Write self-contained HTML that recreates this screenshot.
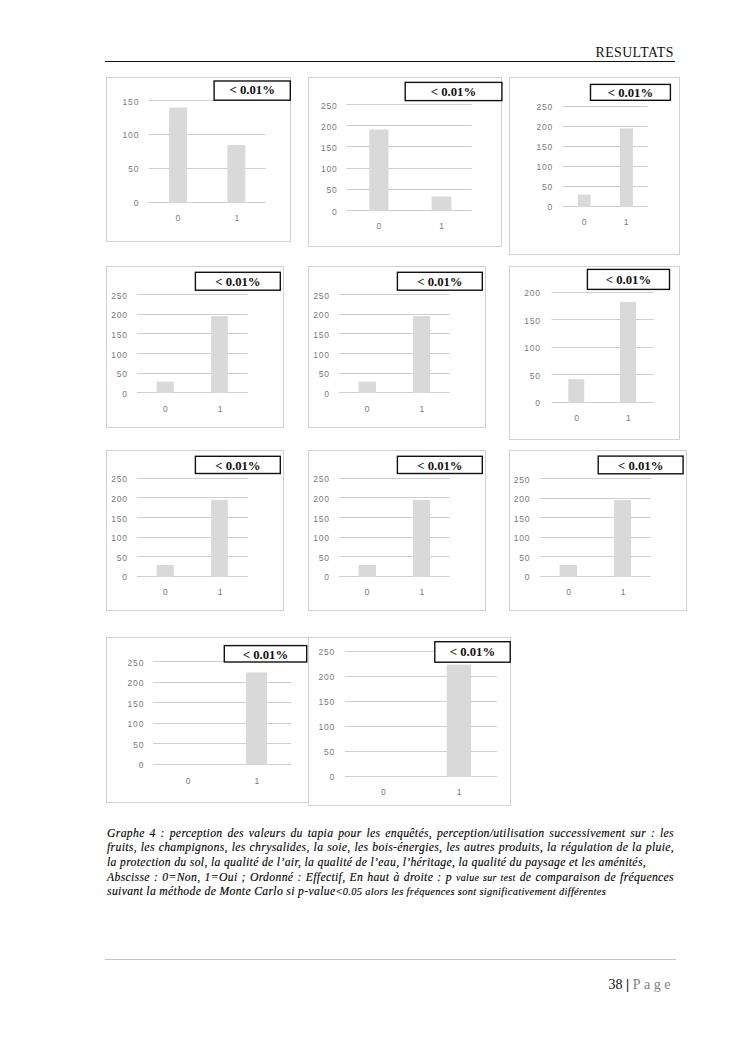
<!DOCTYPE html>
<html><head><meta charset="utf-8">
<style>
html,body{margin:0;padding:0;background:#fff;}
body{width:745px;height:1053px;position:relative;overflow:hidden;}
.hdr{position:absolute;left:595.5px;top:45.74px;font-family:"Liberation Serif",serif;font-size:13.8px;line-height:13.8px;letter-spacing:0.45px;color:#111;white-space:nowrap;}
.hline{position:absolute;left:105px;top:61px;width:570px;height:1px;background:#111;}
svg{position:absolute;left:0;top:0;}
.t{font-family:"Liberation Sans",sans-serif;font-size:8.5px;fill:#7a7a7a;letter-spacing:0.8px;}
.lb{font-family:"Liberation Serif",serif;font-weight:bold;font-size:12.7px;fill:#111;}
.cl{position:absolute;left:107px;width:567px;font-family:"Liberation Serif",serif;font-style:italic;font-size:11.7px;line-height:14px;letter-spacing:0.33px;color:#000;-webkit-text-stroke:0.12px #000;white-space:nowrap;}
.cl.j{text-align:justify;text-align-last:justify;white-space:normal;}
.sm{font-size:10.4px;}
.sm4{font-size:10px;}
.fline{position:absolute;left:104.5px;top:959px;width:571px;height:1px;background:#c4c4c4;}
.pg{position:absolute;left:608.6px;top:977.57px;font-family:"Liberation Serif",serif;font-size:14px;line-height:14px;color:#111;white-space:nowrap;}
.pg b{font-weight:bold;}
.pg .p{color:#7f7f7f;letter-spacing:3.5px;}
</style></head><body>
<div class="hdr">RESULTATS</div>
<div class="hline"></div>
<svg width="745" height="1053" viewBox="0 0 745 1053">
<rect x="106.5" y="77.5" width="184.0" height="164.0" fill="#fff" stroke="#d2d2d2" stroke-width="1"/>
<rect x="148.5" y="202.0" width="117.0" height="1" fill="#cfcfcf"/>
<text x="139.2" y="206.1" text-anchor="end" class="t">0</text>
<rect x="148.5" y="168.0" width="117.0" height="1" fill="#cfcfcf"/>
<text x="139.2" y="172.3" text-anchor="end" class="t">50</text>
<rect x="148.5" y="134.0" width="117.0" height="1" fill="#cfcfcf"/>
<text x="139.2" y="138.4" text-anchor="end" class="t">100</text>
<rect x="148.5" y="100.0" width="117.0" height="1" fill="#cfcfcf"/>
<text x="139.2" y="104.6" text-anchor="end" class="t">150</text>
<rect x="169.1" y="107.6" width="17.8" height="95.4" fill="#d9d9d9"/>
<rect x="227.4" y="145.1" width="17.9" height="57.9" fill="#d9d9d9"/>
<text x="178.3" y="220.6" text-anchor="middle" class="t">0</text>
<text x="237.3" y="220.6" text-anchor="middle" class="t">1</text>
<rect x="214.1" y="81.0" width="76.2" height="19.2" fill="#fff" stroke="#111" stroke-width="1.4"/>
<text x="252.2" y="93.9" text-anchor="middle" class="lb">&lt; 0.01%</text>
<rect x="308.5" y="77.5" width="193.0" height="169.0" fill="#fff" stroke="#d2d2d2" stroke-width="1"/>
<rect x="346.5" y="210.0" width="125.4" height="1" fill="#cfcfcf"/>
<text x="337.6" y="214.6" text-anchor="end" class="t">0</text>
<rect x="346.5" y="189.0" width="125.4" height="1" fill="#cfcfcf"/>
<text x="337.6" y="193.4" text-anchor="end" class="t">50</text>
<rect x="346.5" y="168.0" width="125.4" height="1" fill="#cfcfcf"/>
<text x="337.6" y="172.2" text-anchor="end" class="t">100</text>
<rect x="346.5" y="146.0" width="125.4" height="1" fill="#cfcfcf"/>
<text x="337.6" y="150.9" text-anchor="end" class="t">150</text>
<rect x="346.5" y="125.0" width="125.4" height="1" fill="#cfcfcf"/>
<text x="337.6" y="129.7" text-anchor="end" class="t">200</text>
<rect x="346.5" y="104.0" width="125.4" height="1" fill="#cfcfcf"/>
<text x="337.6" y="108.5" text-anchor="end" class="t">250</text>
<rect x="369.3" y="129.5" width="19.2" height="81.5" fill="#d9d9d9"/>
<rect x="431.6" y="196.5" width="19.8" height="14.5" fill="#d9d9d9"/>
<text x="379.3" y="229.4" text-anchor="middle" class="t">0</text>
<text x="441.9" y="229.4" text-anchor="middle" class="t">1</text>
<rect x="405.2" y="82.4" width="96.7" height="18.2" fill="#fff" stroke="#111" stroke-width="1.4"/>
<text x="453.5" y="96.0" text-anchor="middle" class="lb">&lt; 0.01%</text>
<rect x="509.5" y="77.5" width="170.0" height="177.0" fill="#fff" stroke="#d2d2d2" stroke-width="1"/>
<rect x="563.0" y="206.0" width="84.9" height="1" fill="#cfcfcf"/>
<text x="553.1" y="210.4" text-anchor="end" class="t">0</text>
<rect x="563.0" y="186.0" width="84.9" height="1" fill="#cfcfcf"/>
<text x="553.1" y="190.4" text-anchor="end" class="t">50</text>
<rect x="563.0" y="166.0" width="84.9" height="1" fill="#cfcfcf"/>
<text x="553.1" y="170.4" text-anchor="end" class="t">100</text>
<rect x="563.0" y="146.0" width="84.9" height="1" fill="#cfcfcf"/>
<text x="553.1" y="150.4" text-anchor="end" class="t">150</text>
<rect x="563.0" y="126.0" width="84.9" height="1" fill="#cfcfcf"/>
<text x="553.1" y="130.4" text-anchor="end" class="t">200</text>
<rect x="563.0" y="106.0" width="84.9" height="1" fill="#cfcfcf"/>
<text x="553.1" y="110.4" text-anchor="end" class="t">250</text>
<rect x="577.8" y="194.5" width="12.7" height="12.5" fill="#d9d9d9"/>
<rect x="619.8" y="128.4" width="13.1" height="78.6" fill="#d9d9d9"/>
<text x="584.6" y="225.0" text-anchor="middle" class="t">0</text>
<text x="626.6" y="225.0" text-anchor="middle" class="t">1</text>
<rect x="590.5" y="84.4" width="79.9" height="15.9" fill="#fff" stroke="#111" stroke-width="1.4"/>
<text x="630.5" y="96.9" text-anchor="middle" class="lb">&lt; 0.01%</text>
<rect x="106.5" y="266.5" width="177.0" height="161.0" fill="#fff" stroke="#d2d2d2" stroke-width="1"/>
<rect x="137.0" y="392.0" width="110.9" height="1" fill="#cfcfcf"/>
<text x="127.8" y="396.9" text-anchor="end" class="t">0</text>
<rect x="137.0" y="373.0" width="110.9" height="1" fill="#cfcfcf"/>
<text x="127.8" y="377.2" text-anchor="end" class="t">50</text>
<rect x="137.0" y="353.0" width="110.9" height="1" fill="#cfcfcf"/>
<text x="127.8" y="357.6" text-anchor="end" class="t">100</text>
<rect x="137.0" y="333.0" width="110.9" height="1" fill="#cfcfcf"/>
<text x="127.8" y="337.9" text-anchor="end" class="t">150</text>
<rect x="137.0" y="314.0" width="110.9" height="1" fill="#cfcfcf"/>
<text x="127.8" y="318.3" text-anchor="end" class="t">200</text>
<rect x="137.0" y="294.0" width="110.9" height="1" fill="#cfcfcf"/>
<text x="127.8" y="298.6" text-anchor="end" class="t">250</text>
<rect x="156.6" y="381.6" width="17.2" height="11.4" fill="#d9d9d9"/>
<rect x="211.1" y="316.1" width="16.7" height="76.9" fill="#d9d9d9"/>
<text x="165.7" y="412.0" text-anchor="middle" class="t">0</text>
<text x="220.4" y="412.0" text-anchor="middle" class="t">1</text>
<rect x="195.4" y="272.3" width="84.9" height="17.9" fill="#fff" stroke="#111" stroke-width="1.4"/>
<text x="237.9" y="286.1" text-anchor="middle" class="lb">&lt; 0.01%</text>
<rect x="308.5" y="266.5" width="177.0" height="161.0" fill="#fff" stroke="#d2d2d2" stroke-width="1"/>
<rect x="339.3" y="392.0" width="110.3" height="1" fill="#cfcfcf"/>
<text x="329.8" y="396.9" text-anchor="end" class="t">0</text>
<rect x="339.3" y="373.0" width="110.3" height="1" fill="#cfcfcf"/>
<text x="329.8" y="377.2" text-anchor="end" class="t">50</text>
<rect x="339.3" y="353.0" width="110.3" height="1" fill="#cfcfcf"/>
<text x="329.8" y="357.6" text-anchor="end" class="t">100</text>
<rect x="339.3" y="333.0" width="110.3" height="1" fill="#cfcfcf"/>
<text x="329.8" y="337.9" text-anchor="end" class="t">150</text>
<rect x="339.3" y="314.0" width="110.3" height="1" fill="#cfcfcf"/>
<text x="329.8" y="318.3" text-anchor="end" class="t">200</text>
<rect x="339.3" y="294.0" width="110.3" height="1" fill="#cfcfcf"/>
<text x="329.8" y="298.6" text-anchor="end" class="t">250</text>
<rect x="358.5" y="381.6" width="17.5" height="11.4" fill="#d9d9d9"/>
<rect x="413.0" y="316.1" width="17.0" height="76.9" fill="#d9d9d9"/>
<text x="367.5" y="412.0" text-anchor="middle" class="t">0</text>
<text x="422.3" y="412.0" text-anchor="middle" class="t">1</text>
<rect x="397.4" y="272.3" width="84.9" height="17.9" fill="#fff" stroke="#111" stroke-width="1.4"/>
<text x="439.9" y="286.1" text-anchor="middle" class="lb">&lt; 0.01%</text>
<rect x="509.5" y="266.5" width="170.0" height="173.0" fill="#fff" stroke="#d2d2d2" stroke-width="1"/>
<rect x="551.5" y="402.0" width="102.3" height="1" fill="#cfcfcf"/>
<text x="540.8" y="406.4" text-anchor="end" class="t">0</text>
<rect x="551.5" y="374.0" width="102.3" height="1" fill="#cfcfcf"/>
<text x="540.8" y="378.9" text-anchor="end" class="t">50</text>
<rect x="551.5" y="347.0" width="102.3" height="1" fill="#cfcfcf"/>
<text x="540.8" y="351.4" text-anchor="end" class="t">100</text>
<rect x="551.5" y="319.0" width="102.3" height="1" fill="#cfcfcf"/>
<text x="540.8" y="323.8" text-anchor="end" class="t">150</text>
<rect x="551.5" y="292.0" width="102.3" height="1" fill="#cfcfcf"/>
<text x="540.8" y="296.3" text-anchor="end" class="t">200</text>
<rect x="568.3" y="379.2" width="15.9" height="23.8" fill="#d9d9d9"/>
<rect x="620.1" y="301.9" width="15.8" height="101.1" fill="#d9d9d9"/>
<text x="576.9" y="421.2" text-anchor="middle" class="t">0</text>
<text x="628.7" y="421.2" text-anchor="middle" class="t">1</text>
<rect x="587.4" y="269.4" width="82.1" height="20.0" fill="#fff" stroke="#111" stroke-width="1.4"/>
<text x="628.5" y="284.3" text-anchor="middle" class="lb">&lt; 0.01%</text>
<rect x="106.5" y="450.5" width="177.0" height="160.0" fill="#fff" stroke="#d2d2d2" stroke-width="1"/>
<rect x="137.0" y="576.0" width="111.0" height="1" fill="#cfcfcf"/>
<text x="127.8" y="580.4" text-anchor="end" class="t">0</text>
<rect x="137.0" y="556.0" width="111.0" height="1" fill="#cfcfcf"/>
<text x="127.8" y="560.8" text-anchor="end" class="t">50</text>
<rect x="137.0" y="537.0" width="111.0" height="1" fill="#cfcfcf"/>
<text x="127.8" y="541.1" text-anchor="end" class="t">100</text>
<rect x="137.0" y="517.0" width="111.0" height="1" fill="#cfcfcf"/>
<text x="127.8" y="521.5" text-anchor="end" class="t">150</text>
<rect x="137.0" y="497.0" width="111.0" height="1" fill="#cfcfcf"/>
<text x="127.8" y="501.8" text-anchor="end" class="t">200</text>
<rect x="137.0" y="478.0" width="111.0" height="1" fill="#cfcfcf"/>
<text x="127.8" y="482.2" text-anchor="end" class="t">250</text>
<rect x="156.6" y="565.0" width="17.2" height="12.0" fill="#d9d9d9"/>
<rect x="211.1" y="500.0" width="16.7" height="77.0" fill="#d9d9d9"/>
<text x="165.7" y="595.1" text-anchor="middle" class="t">0</text>
<text x="220.4" y="595.1" text-anchor="middle" class="t">1</text>
<rect x="195.4" y="456.3" width="84.9" height="17.2" fill="#fff" stroke="#111" stroke-width="1.4"/>
<text x="237.9" y="470.1" text-anchor="middle" class="lb">&lt; 0.01%</text>
<rect x="308.5" y="450.5" width="177.0" height="160.0" fill="#fff" stroke="#d2d2d2" stroke-width="1"/>
<rect x="339.3" y="576.0" width="110.3" height="1" fill="#cfcfcf"/>
<text x="329.8" y="580.4" text-anchor="end" class="t">0</text>
<rect x="339.3" y="556.0" width="110.3" height="1" fill="#cfcfcf"/>
<text x="329.8" y="560.8" text-anchor="end" class="t">50</text>
<rect x="339.3" y="537.0" width="110.3" height="1" fill="#cfcfcf"/>
<text x="329.8" y="541.1" text-anchor="end" class="t">100</text>
<rect x="339.3" y="517.0" width="110.3" height="1" fill="#cfcfcf"/>
<text x="329.8" y="521.5" text-anchor="end" class="t">150</text>
<rect x="339.3" y="497.0" width="110.3" height="1" fill="#cfcfcf"/>
<text x="329.8" y="501.8" text-anchor="end" class="t">200</text>
<rect x="339.3" y="478.0" width="110.3" height="1" fill="#cfcfcf"/>
<text x="329.8" y="482.2" text-anchor="end" class="t">250</text>
<rect x="358.5" y="565.0" width="17.5" height="12.0" fill="#d9d9d9"/>
<rect x="413.0" y="500.0" width="17.0" height="77.0" fill="#d9d9d9"/>
<text x="367.5" y="595.1" text-anchor="middle" class="t">0</text>
<text x="422.3" y="595.1" text-anchor="middle" class="t">1</text>
<rect x="397.4" y="456.3" width="84.9" height="17.2" fill="#fff" stroke="#111" stroke-width="1.4"/>
<text x="439.9" y="470.1" text-anchor="middle" class="lb">&lt; 0.01%</text>
<rect x="509.5" y="450.5" width="177.0" height="160.0" fill="#fff" stroke="#d2d2d2" stroke-width="1"/>
<rect x="540.3" y="576.0" width="110.6" height="1" fill="#cfcfcf"/>
<text x="530.3" y="580.4" text-anchor="end" class="t">0</text>
<rect x="540.3" y="556.0" width="110.6" height="1" fill="#cfcfcf"/>
<text x="530.3" y="560.8" text-anchor="end" class="t">50</text>
<rect x="540.3" y="537.0" width="110.6" height="1" fill="#cfcfcf"/>
<text x="530.3" y="541.2" text-anchor="end" class="t">100</text>
<rect x="540.3" y="517.0" width="110.6" height="1" fill="#cfcfcf"/>
<text x="530.3" y="521.7" text-anchor="end" class="t">150</text>
<rect x="540.3" y="498.0" width="110.6" height="1" fill="#cfcfcf"/>
<text x="530.3" y="502.1" text-anchor="end" class="t">200</text>
<rect x="540.3" y="478.0" width="110.6" height="1" fill="#cfcfcf"/>
<text x="530.3" y="482.5" text-anchor="end" class="t">250</text>
<rect x="559.6" y="565.0" width="17.4" height="12.0" fill="#d9d9d9"/>
<rect x="614.1" y="500.0" width="16.9" height="77.0" fill="#d9d9d9"/>
<text x="568.9" y="595.1" text-anchor="middle" class="t">0</text>
<text x="623.4" y="595.1" text-anchor="middle" class="t">1</text>
<rect x="598.2" y="456.1" width="84.9" height="17.7" fill="#fff" stroke="#111" stroke-width="1.4"/>
<text x="640.7" y="470.1" text-anchor="middle" class="lb">&lt; 0.01%</text>
<rect x="106.5" y="637.5" width="202.0" height="165.0" fill="#fff" stroke="#d2d2d2" stroke-width="1"/>
<rect x="153.2" y="764.0" width="138.2" height="1" fill="#cfcfcf"/>
<text x="144.2" y="768.4" text-anchor="end" class="t">0</text>
<rect x="153.2" y="743.0" width="138.2" height="1" fill="#cfcfcf"/>
<text x="144.2" y="747.8" text-anchor="end" class="t">50</text>
<rect x="153.2" y="723.0" width="138.2" height="1" fill="#cfcfcf"/>
<text x="144.2" y="727.3" text-anchor="end" class="t">100</text>
<rect x="153.2" y="702.0" width="138.2" height="1" fill="#cfcfcf"/>
<text x="144.2" y="706.7" text-anchor="end" class="t">150</text>
<rect x="153.2" y="682.0" width="138.2" height="1" fill="#cfcfcf"/>
<text x="144.2" y="686.2" text-anchor="end" class="t">200</text>
<rect x="153.2" y="661.0" width="138.2" height="1" fill="#cfcfcf"/>
<text x="144.2" y="665.6" text-anchor="end" class="t">250</text>
<rect x="246.0" y="672.4" width="21.0" height="92.6" fill="#d9d9d9"/>
<text x="188.4" y="783.6" text-anchor="middle" class="t">0</text>
<text x="257.2" y="783.6" text-anchor="middle" class="t">1</text>
<rect x="224.3" y="645.6" width="82.4" height="16.4" fill="#fff" stroke="#111" stroke-width="1.4"/>
<text x="265.5" y="658.7" text-anchor="middle" class="lb">&lt; 0.01%</text>
<rect x="308.5" y="637.5" width="202.0" height="168.0" fill="#fff" stroke="#d2d2d2" stroke-width="1"/>
<rect x="345.0" y="776.0" width="152.2" height="1" fill="#cfcfcf"/>
<text x="335.0" y="780.3" text-anchor="end" class="t">0</text>
<rect x="345.0" y="751.0" width="152.2" height="1" fill="#cfcfcf"/>
<text x="335.0" y="755.3" text-anchor="end" class="t">50</text>
<rect x="345.0" y="726.0" width="152.2" height="1" fill="#cfcfcf"/>
<text x="335.0" y="730.3" text-anchor="end" class="t">100</text>
<rect x="345.0" y="701.0" width="152.2" height="1" fill="#cfcfcf"/>
<text x="335.0" y="705.4" text-anchor="end" class="t">150</text>
<rect x="345.0" y="676.0" width="152.2" height="1" fill="#cfcfcf"/>
<text x="335.0" y="680.4" text-anchor="end" class="t">200</text>
<rect x="345.0" y="651.0" width="152.2" height="1" fill="#cfcfcf"/>
<text x="335.0" y="655.4" text-anchor="end" class="t">250</text>
<rect x="446.7" y="664.6" width="24.3" height="112.4" fill="#d9d9d9"/>
<text x="383.7" y="794.5" text-anchor="middle" class="t">0</text>
<text x="459.4" y="794.5" text-anchor="middle" class="t">1</text>
<rect x="434.8" y="641.7" width="75.4" height="20.5" fill="#fff" stroke="#111" stroke-width="1.4"/>
<text x="472.5" y="655.9" text-anchor="middle" class="lb">&lt; 0.01%</text>
</svg>
<div class="cl j" style="top:826.55px">Graphe 4 : perception des valeurs du tapia pour les enquêtés, perception/utilisation successivement sur : les</div>
<div class="cl j" style="top:841.35px">fruits, les champignons, les chrysalides, la soie, les bois-énergies, les autres produits, la régulation de la pluie,</div>
<div class="cl n" style="top:855.55px">la protection du sol, la qualité de l’air, la qualité de l’eau, l’héritage, la qualité du paysage et les aménités,</div>
<div class="cl j" style="top:871.15px">Abscisse : 0=Non, 1=Oui ; Ordonné : Effectif, En haut à droite : p <span class="sm4">value sur test</span> de comparaison de fréquences</div>
<div class="cl n" style="top:884.75px">suivant la méthode de Monte Carlo si p-value<span class="sm">&lt;0.05 alors les fréquences sont significativement différentes</span></div>
<div class="fline"></div>
<div class="pg">38 <b>|</b> <span class="p">Page</span></div>
</body></html>
